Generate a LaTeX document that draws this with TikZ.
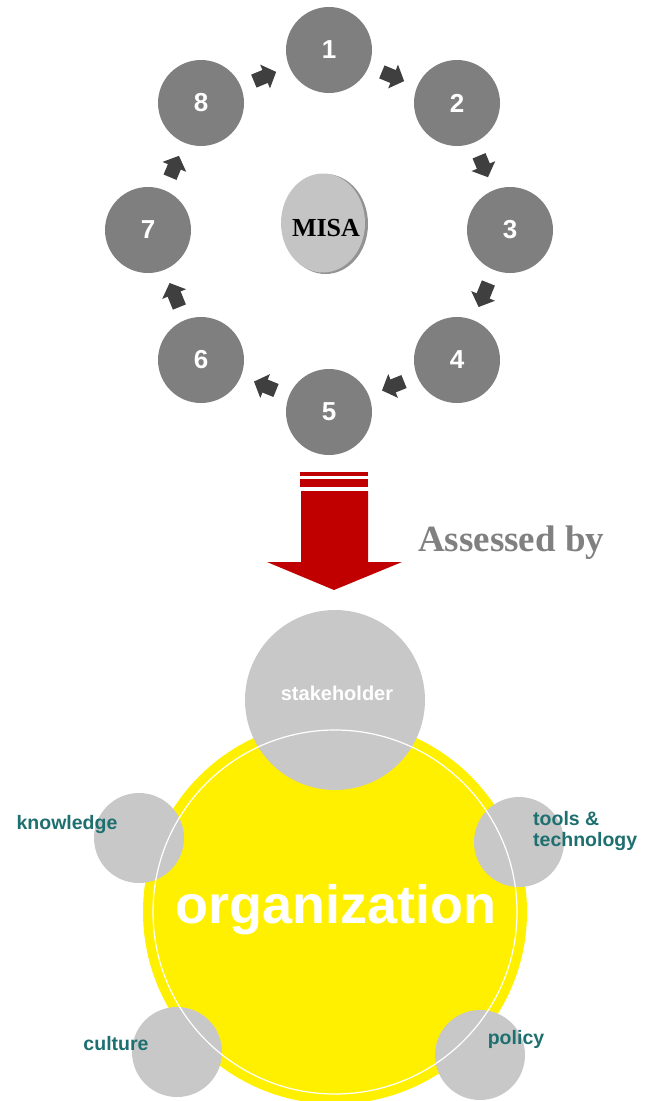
\documentclass[tikz,border=0pt]{standalone}
\usepackage{fontspec}
\setmainfont{Liberation Serif}
\newfontfamily\arial{Liberation Sans}
\usetikzlibrary{arrows.meta,shapes.geometric}
\definecolor{ringgray}{HTML}{7F7F7F}
\definecolor{lightgray2}{HTML}{C8C8C8}
\definecolor{misagray}{HTML}{C4C4C4}
\definecolor{misashadow}{HTML}{939393}
\definecolor{arrdark}{HTML}{3F3F3F}
\definecolor{bigred}{HTML}{C00000}
\definecolor{orgyellow}{HTML}{FFF000}
\definecolor{teal2}{HTML}{1E6F6F}
\definecolor{txtgray}{HTML}{808080}
\tikzset{
  stepcircle/.style={circle, fill=ringgray, minimum size=86pt, inner sep=0pt,
    text=white, font=\arial\bfseries\fontsize{26}{26}\selectfont},
  blockarr/.style={draw=arrdark, line width=14pt,
    -{Triangle[width=25pt,length=12pt]}, shorten >=14pt, shorten <=14pt},
  satcircle/.style={circle, fill=lightgray2, minimum size=90pt, inner sep=0pt},
  satlabel/.style={text=teal2, font=\arial\bfseries\fontsize{19.5}{21}\selectfont, inner sep=0pt},
}
\begin{document}
\begin{tikzpicture}[x=1pt,y=-1pt]
\useasboundingbox (0,0) rectangle (656,1101);
\clip (0,0) rectangle (656,1101);
% ring of steps
\node[stepcircle] (c1) at (329,50) {1};
\node[stepcircle] (c2) at (457,103) {2};
\node[stepcircle] (c3) at (510,230) {3};
\node[stepcircle] (c4) at (457,360) {4};
\node[stepcircle] (c5) at (329,412) {5};
\node[stepcircle] (c6) at (201,360) {6};
\node[stepcircle] (c7) at (148,230) {7};
\node[stepcircle] (c8) at (201,103) {8};
\draw[blockarr] (c1) -- (c2);
\draw[blockarr] (c2) -- (c3);
\draw[blockarr] (c3) -- (c4);
\draw[blockarr] (c4) -- (c5);
\draw[blockarr] (c5) -- (c6);
\draw[blockarr] (c6) -- (c7);
\draw[blockarr] (c7) -- (c8);
\draw[blockarr] (c8) -- (c1);
% MISA
\fill[misashadow] (325.5,224) ellipse [x radius=42.5, y radius=50];
\node[ellipse, fill=misagray, minimum width=84pt, minimum height=99pt, inner sep=0pt] (misa) at (323,223) {};
\node[font=\bfseries\fontsize{26}{26}\selectfont, inner sep=0pt] (misatext) at (326,228) {MISA};
% red arrow
\fill[bigred] (300,472) rectangle (368,476);
\fill[bigred] (300,479) rectangle (368,487);
\fill[bigred] (301,491) -- (368,491) -- (368,562) -- (402,562) -- (334,590) -- (267,562) -- (301,562) -- cycle;
\node[anchor=base west, text=txtgray, font=\bfseries\fontsize{37}{37}\selectfont, inner sep=0pt] (assessed) at (418,551) {Assessed by};
% organization
\node[circle, fill=orgyellow, minimum size=384pt, inner sep=0pt] (org) at (335,912) {};
\node[satcircle, minimum size=180pt] (stake) at (335,700) {};
\node[satcircle] (know) at (139,838) {};
\node[satcircle] (tools) at (519,842) {};
\node[satcircle] (cult) at (177,1052) {};
\node[satcircle] (pol) at (480,1055) {};
\draw[white, line width=1.2pt] (org.center) circle [radius=182];
\node[text=white, font=\arial\bfseries\fontsize{20}{20}\selectfont, inner sep=0pt] (staketext) at (337,693) {stakeholder};
\node[anchor=base, text=white, font=\arial\bfseries\fontsize{54}{54}\selectfont, inner sep=0pt] (orgtext) at (336,923) {organization};
\node[satlabel] (knowtext) at (67,824) {knowledge};
\node[satlabel, anchor=west, align=left] (toolstext) at (533,831) {tools \&\\technology};
\node[satlabel] (culttext) at (116,1044) {culture};
\node[satlabel] (poltext) at (516,1039) {policy};
\end{tikzpicture}
\end{document}
